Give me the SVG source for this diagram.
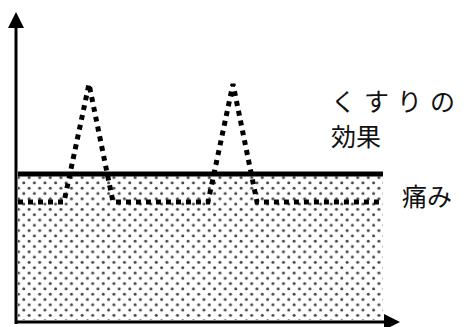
<svg xmlns="http://www.w3.org/2000/svg" width="468" height="327" viewBox="0 0 468 327">
<style>
.t{font-family:"Noto Sans CJK JP","Noto Sans",sans-serif;font-size:25px;fill:#111}
.ax{stroke:#000;stroke-width:3;fill:none}
.pain{stroke:#000;stroke-width:5;stroke-dasharray:5 5;fill:none}
</style>
<defs>
<pattern id="dots" width="10.6" height="10.6" patternUnits="userSpaceOnUse">
<circle cx="2.6" cy="2.6" r="1.5" fill="#444"/>
<circle cx="7.9" cy="7.9" r="1.5" fill="#444"/>
</pattern>
<marker id="ah" viewBox="0 0 10 10" refX="0" refY="5" markerWidth="16" markerHeight="16" markerUnits="userSpaceOnUse" orient="auto">
<path d="M0,0 L10,5 L0,10 Z" fill="#000"/>
</marker>
</defs>
<g id="area"><rect x="18" y="176" width="365" height="144" fill="url(#dots)"/></g>
<g id="effect"><line x1="18" y1="174" x2="383" y2="174" stroke="#000" stroke-width="5"/></g>
<g id="connectors">
<path class="pain" d="M18,202 L64,202 L89,84 L113,202 L208,202 L233,84 L257,202 L383,202"/>
<line class="ax" x1="16" y1="324" x2="16" y2="28" marker-end="url(#ah)"/>
<line class="ax" x1="15" y1="322" x2="384" y2="322" marker-end="url(#ah)"/>
</g>
<g id="label-kusuri"><text class="t" x="331" y="111" letter-spacing="8">くすりの</text><text class="t" x="331" y="146">効果</text></g>
<g id="label-itami"><text class="t" x="402" y="206">痛み</text></g>
</svg>
